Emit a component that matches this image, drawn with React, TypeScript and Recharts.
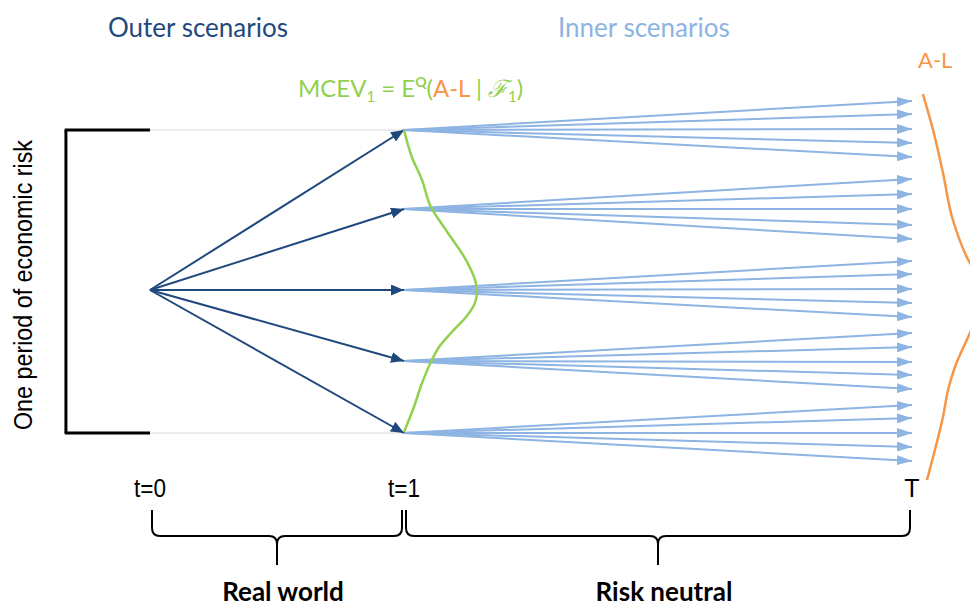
import React from 'react';
import { ComposedChart, Line, XAxis, YAxis, ReferenceLine, ReferenceDot } from 'recharts';

// time axis: t=0, t=1 and the horizon T
const timePoints = [0, 1, 3];
const timeLabels = ['t=0', 't=1', 'T'];

// state of the world at t=0 and the five outer (real world) scenarios at t=1
const startValue = 0;
const outerValues = [16, 8.1, 0, -7.1, -14.3];

// five inner (risk neutral) scenarios at T for each outer scenario
const innerValues = [
  [18.9, 17.6, 16.1, 14.7, 13.3],
  [11.1, 9.6, 8.1, 6.5, 5.1],
  [2.9, 1.6, 0.1, -1.3, -2.7],
  [-4.3, -5.7, -7.2, -8.5, -9.9],
  [-11.5, -12.8, -14.3, -15.7, -17.1],
];

// MCEV_1 distribution drawn on t=1
const mcevValues = [16, 13.3, 11, 8.3, 6, 3, 0.7, -0.3, -1.5, -2.7, -4.3, -5.7, -7, -9.3, -11.7, -14.2];
const mcevDensity = [0, 0.031, 0.071, 0.106, 0.165, 0.244, 0.283, 0.287, 0.276, 0.244, 0.185, 0.138, 0.11, 0.071, 0.039, 0];

// A-L distribution drawn on T
const alValues = [19.6, 16, 11.7, 7, 2.7, 0, -4.3, -7.7, -10, -12.7, -16.7, -19];
const alDensity = [0.043, 0.083, 0.122, 0.161, 0.228, 0.3, 0.228, 0.169, 0.142, 0.122, 0.083, 0.059];

const periodLabels = ['Real world', 'Risk neutral'];

const W = 970;
const H = 607;
const PX_PER_T = 254;
const X_DOMAIN: [number, number] = [-150 / PX_PER_T, (W - 150) / PX_PER_T];
const Y_DOMAIN: [number, number] = [-31.7, 29];

const DARK = '#1f497d';
const LIGHT = '#8db4e2';
const GREEN = '#92d050';
const ORANGE = '#f79646';
const SANS = '"Liberation Sans", Arial, sans-serif';

const bracketT = -0.331;
const braceValue = -22;
const timeLabelValue = -20.7;

const outerData = outerValues.map((v) => [
  { t: timePoints[0], v: startValue },
  { t: timePoints[1], v },
]);

const innerData = innerValues.flatMap((group, i) =>
  group.map((v) => [
    { t: timePoints[1], v: outerValues[i] },
    { t: timePoints[2], v },
  ])
);

const mcevData = mcevValues.map((v, i) => ({ t: timePoints[1] + mcevDensity[i], v }));
const alData = alValues.map((v, i) => ({ t: timePoints[2] + alDensity[i], v }));

function Brace(props: any) {
  const { x1, x2, y1, text } = props;
  const a = x1 + 2;
  const b = x2 - 2;
  const m = (a + b) / 2;
  const yh = y1 + 26;
  const tip = y1 + 55;
  const r = 8;
  const d = `M${a},${y1} L${a},${yh - r} Q${a},${yh} ${a + r},${yh} L${m - r},${yh} Q${m},${yh} ${m},${yh + r} L${m},${tip} ` +
    `M${m},${yh + r} Q${m},${yh} ${m + r},${yh} L${b - r},${yh} Q${b},${yh} ${b},${yh - r} L${b},${y1}`;
  return (
    <g>
      <path d={d} fill="none" stroke="#000" strokeWidth={2} />
      <text x={m + 6} y={y1 + 91} textAnchor="middle" fontFamily="Lato" fontWeight="bold" fontSize={26} fill="#000">
        {text}
      </text>
    </g>
  );
}

export default function App() {
  return (
    <div style={{ position: 'absolute', left: 0, top: 0, width: W, height: H, background: '#fff' }}>
      <ComposedChart width={W} height={H} margin={{ top: 0, right: 0, bottom: 0, left: 0 }}>
        <defs>
          <marker id="arrowDark" viewBox="0 0 13 11" refX={13} refY={5.5} markerWidth={13} markerHeight={11} markerUnits="userSpaceOnUse" orient="auto">
            <path d="M0,0 L13,5.5 L0,11 z" fill={DARK} />
          </marker>
          <marker id="arrowLight" viewBox="0 0 15 10" refX={15} refY={5} markerWidth={15} markerHeight={10} markerUnits="userSpaceOnUse" orient="auto">
            <path d="M0,0 L15,5 L0,10 z" fill={LIGHT} />
          </marker>
        </defs>
        <XAxis type="number" dataKey="t" domain={X_DOMAIN} allowDataOverflow hide />
        <YAxis type="number" dataKey="v" domain={Y_DOMAIN} allowDataOverflow hide />

        {/* bracket for one period of economic risk */}
        <ReferenceLine segment={[{ x: timePoints[0], y: outerValues[0] }, { x: timePoints[1], y: outerValues[0] }]} stroke="#ececec" strokeWidth={2} />
        <ReferenceLine segment={[{ x: timePoints[0], y: outerValues[4] }, { x: timePoints[1], y: outerValues[4] }]} stroke="#ececec" strokeWidth={2} />
        <ReferenceLine segment={[{ x: bracketT, y: outerValues[0] }, { x: bracketT, y: outerValues[4] }]} stroke="#000" strokeWidth={3} />
        <ReferenceLine segment={[{ x: bracketT - 0.005, y: outerValues[0] }, { x: timePoints[0], y: outerValues[0] }]} stroke="#000" strokeWidth={3} />
        <ReferenceLine segment={[{ x: bracketT - 0.005, y: outerValues[4] }, { x: timePoints[0], y: outerValues[4] }]} stroke="#000" strokeWidth={3} />

        {innerData.map((d, i) => (
          <Line key={`in${i}`} data={d} dataKey="v" stroke={LIGHT} strokeWidth={2} dot={false} activeDot={false}
            markerEnd="url(#arrowLight)" isAnimationActive={false} />
        ))}
        {outerData.map((d, i) => (
          <Line key={`out${i}`} data={d} dataKey="v" stroke={DARK} strokeWidth={2} dot={false} activeDot={false}
            markerEnd="url(#arrowDark)" isAnimationActive={false} />
        ))}
        <Line data={mcevData} dataKey="v" type="monotoneY" stroke={GREEN} strokeWidth={2.5} dot={false} activeDot={false} isAnimationActive={false} />
        <Line data={alData} dataKey="v" type="monotoneY" stroke={ORANGE} strokeWidth={2.5} dot={false} activeDot={false} isAnimationActive={false} />

        {timePoints.map((t, i) => (
          <ReferenceDot key={`tl${i}`} x={t} y={timeLabelValue} r={0}
            shape={(p: any) => (
              <text x={p.cx} y={p.cy} textAnchor="middle" fontFamily={SANS} fontSize={25} fill="#000"
                textLength={timeLabels[i].length > 1 ? 32 : undefined} lengthAdjust="spacingAndGlyphs">
                {timeLabels[i]}
              </text>
            )}
          />
        ))}

        <ReferenceLine segment={[{ x: timePoints[0], y: braceValue }, { x: timePoints[1], y: braceValue }]}
          shape={(p: any) => <Brace {...p} text={periodLabels[0]} />} />
        <ReferenceLine segment={[{ x: timePoints[1], y: braceValue }, { x: timePoints[2], y: braceValue }]}
          shape={(p: any) => <Brace {...p} text={periodLabels[1]} />} />

        <text x={108} y={37} fontFamily="Lato" fontSize={26} fill={DARK}>Outer scenarios</text>
        <text x={558} y={37} fontFamily="Lato" fontSize={26} fill={LIGHT}>Inner scenarios</text>
        <text x={918} y={68} fontFamily="Lato" fontSize={22} fill={ORANGE}>A-L</text>
        <text x={298} y={97} fontFamily="Lato" fontSize={24} fill={GREEN}>
          MCEV<tspan fontSize={15} dy={5}>1</tspan>
          <tspan dy={-5}> = E</tspan>
          <tspan fontSize={14} fontWeight="bold" dy={-10}>Q</tspan>
          <tspan dy={10}>(</tspan>
          <tspan fill={ORANGE}>A-L</tspan>
          <tspan> | </tspan>
          <tspan fontStyle="italic" fontFamily="DejaVu Serif">ℱ</tspan>
          <tspan fontSize={15} dy={5}>1</tspan>
          <tspan dy={-5}>)</tspan>
        </text>
        <text transform="translate(32,285) rotate(-90)" textAnchor="middle" fontFamily={SANS} fontSize={26} fill="#000"
          textLength={290} lengthAdjust="spacingAndGlyphs">
          One period of economic risk
        </text>
      </ComposedChart>
    </div>
  );
}
